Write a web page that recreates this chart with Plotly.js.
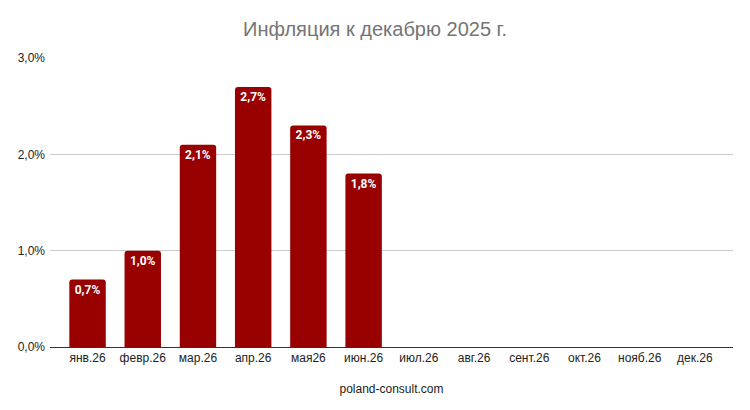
<!DOCTYPE html>
<html>
<head>
<meta charset="utf-8">
<script src="https://cdn.plot.ly/plotly-3.0.1.min.js"></script>
<style>
  body { margin: 0; background: #fff; }
  #chart { width: 750px; height: 410px; }
</style>
</head>
<body>
<div id="chart"></div>
<script>
// months of 2026, values are cumulative inflation vs Dec 2025 (in %)
const months = ['янв.26', 'февр.26', 'мар.26', 'апр.26', 'мая26', 'июн.26',
                'июл.26', 'авг.26', 'сент.26', 'окт.26', 'нояб.26', 'дек.26'];
const inflation = [0.7, 1.0, 2.1, 2.7, 2.3, 1.8, null, null, null, null, null, null];
const y_ticks = [0, 1, 2, 3];
const y_tick_labels = y_ticks.map(v => v.toFixed(1).replace('.', ',') + '%');

let data = [{
    type: 'bar',
    x: months,
    y: inflation,
    marker: {color: '#990000', cornerradius: 3},
    width: 0.66,
    texttemplate: '%{y:.1f}%',
    textposition: 'inside',
    insidetextanchor: 'end',
    textangle: 0,
    textfont: {family: 'Roboto, Arial', size: 12, color: '#ffffff', weight: 'bold'},
    hoverinfo: 'none'
}];

let layout = {
    width: 750,
    height: 410,
    margin: {l: 50, r: 17, t: 58, b: 63},
    paper_bgcolor: '#ffffff',
    plot_bgcolor: '#ffffff',
    separators: ', ',
    showlegend: false,
    font: {family: '"Liberation Sans", Arial', size: 12, color: '#222222'},
    title: {
        text: 'Инфляция к декабрю 2025 г.',
        font: {family: '"Liberation Sans", Arial', size: 20, color: '#757575'},
        x: 0.5, xanchor: 'center',
        y: 0.93, yanchor: 'middle'
    },
    xaxis: {
        type: 'category',
        range: [-0.68, 11.69],
        showgrid: false,
        showline: true,
        linecolor: '#333333',
        linewidth: 1,
        ticks: '',
        tickfont: {size: 12, color: '#222222'},
        title: {text: 'poland-consult.com', font: {size: 12, color: '#222222'}, standoff: 20}
    },
    yaxis: {
        range: [0, 3],
        tickvals: y_ticks,
        ticktext: y_tick_labels,
        showgrid: true,
        gridcolor: '#cccccc',
        zeroline: false,
        ticks: '',
        ticklabelstandoff: 4,
        tickfont: {size: 12, color: '#222222'}
    }
};

Plotly.newPlot('chart', data, layout, {displayModeBar: false, staticPlot: true});
</script>
</body>
</html>
